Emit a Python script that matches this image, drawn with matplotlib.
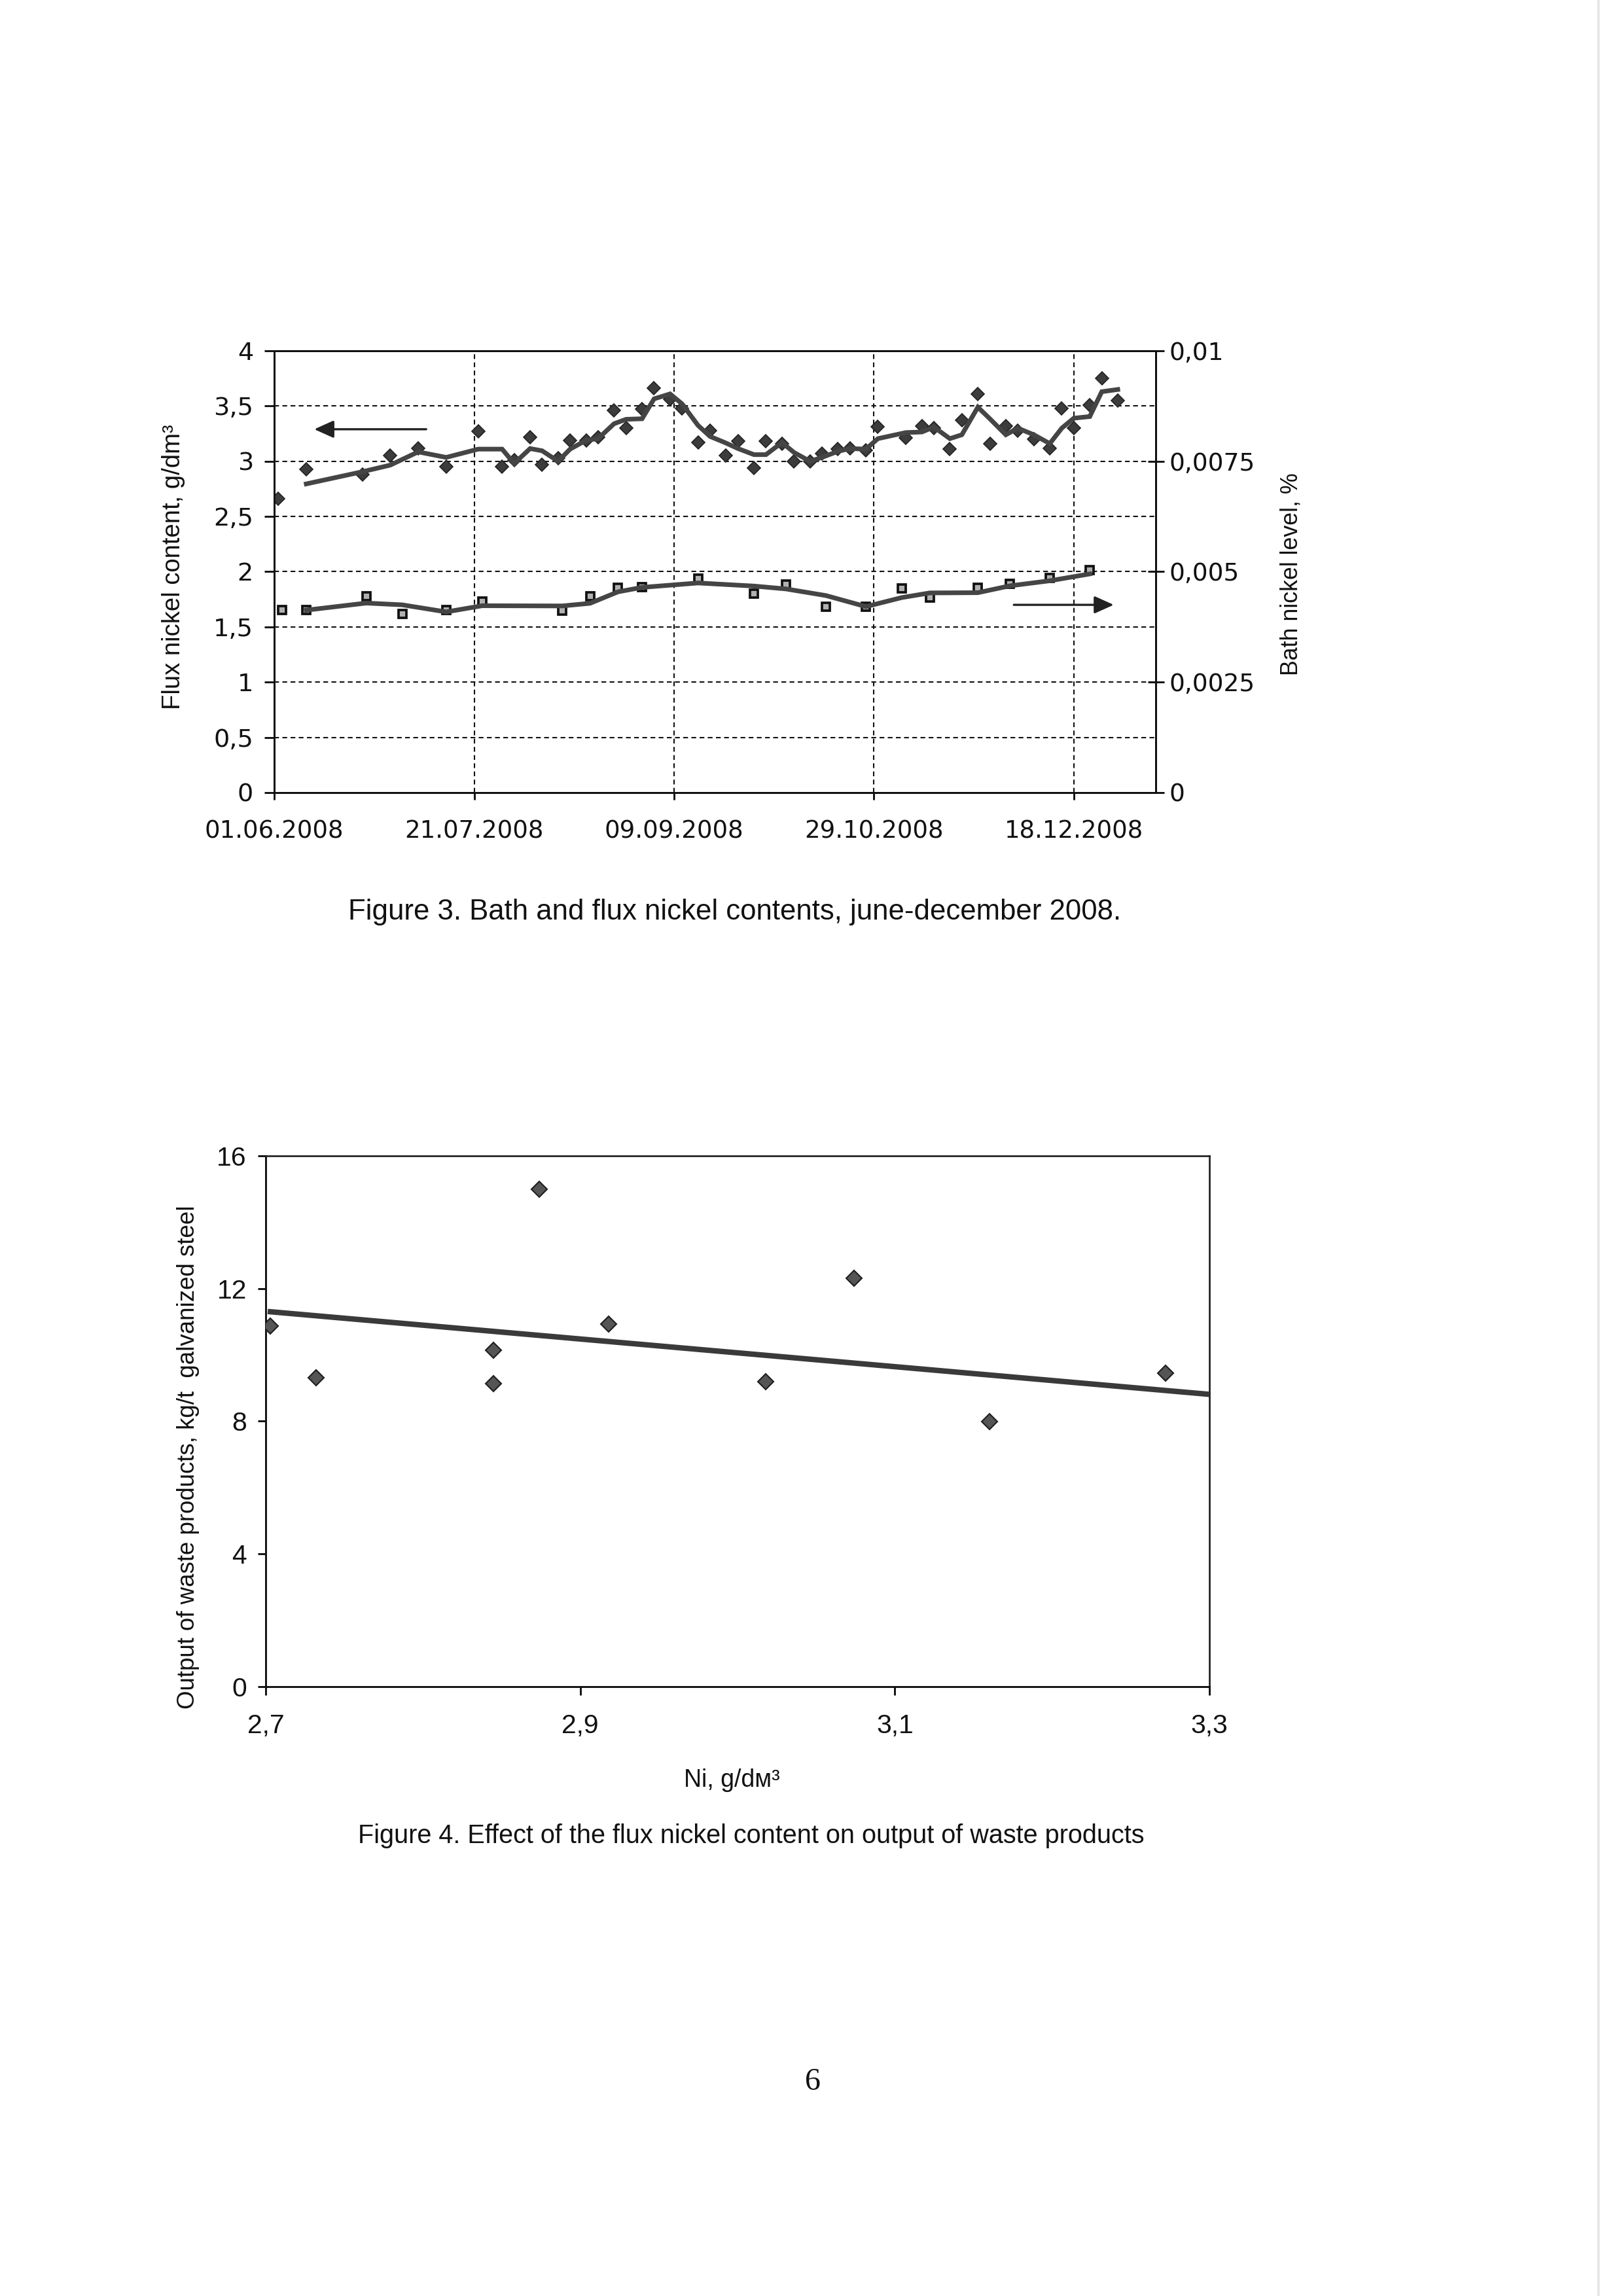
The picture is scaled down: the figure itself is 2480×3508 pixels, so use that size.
import datetime

import matplotlib
matplotlib.use('Agg')
import matplotlib.pyplot as plt
from matplotlib import font_manager
from matplotlib.lines import Line2D
import pandas as pd

# Figure 3: flux (left axis, g/dm3) and bath (right axis, %) nickel contents
flux_dates = [
    '02.06.2008', '09.06.2008', '23.06.2008', '30.06.2008', '07.07.2008',
    '14.07.2008', '22.07.2008', '28.07.2008', '31.07.2008', '04.08.2008',
    '07.08.2008', '11.08.2008', '14.08.2008', '18.08.2008', '21.08.2008',
    '25.08.2008', '28.08.2008', '01.09.2008', '04.09.2008', '08.09.2008',
    '11.09.2008', '15.09.2008', '18.09.2008', '22.09.2008', '25.09.2008',
    '29.09.2008', '02.10.2008', '06.10.2008', '09.10.2008', '13.10.2008',
    '16.10.2008', '20.10.2008', '23.10.2008', '27.10.2008', '30.10.2008',
    '06.11.2008', '10.11.2008', '13.11.2008', '17.11.2008', '20.11.2008',
    '24.11.2008', '27.11.2008', '01.12.2008', '04.12.2008', '08.12.2008',
    '12.12.2008', '15.12.2008', '18.12.2008', '22.12.2008', '25.12.2008',
    '29.12.2008']
flux_ni = [
    2.66, 2.93, 2.88, 3.05, 3.12, 2.95, 3.27, 2.95, 3.01, 3.22,
    2.97, 3.03, 3.19, 3.19, 3.22, 3.46, 3.30, 3.47, 3.66, 3.56,
    3.48, 3.17, 3.28, 3.05, 3.18, 2.94, 3.18, 3.16, 3.00, 3.00,
    3.07, 3.11, 3.12, 3.10, 3.31, 3.21, 3.32, 3.30, 3.11, 3.37,
    3.61, 3.16, 3.32, 3.28, 3.20, 3.12, 3.48, 3.30, 3.51, 3.75,
    3.55]

bath_dates = [
    '03.06.2008', '09.06.2008', '24.06.2008', '03.07.2008', '14.07.2008',
    '23.07.2008', '12.08.2008', '19.08.2008', '26.08.2008', '01.09.2008',
    '15.09.2008', '29.09.2008', '07.10.2008', '17.10.2008', '27.10.2008',
    '05.11.2008', '12.11.2008', '24.11.2008', '02.12.2008', '12.12.2008',
    '22.12.2008']
bath_ni = [
    0.00413, 0.00413, 0.00445, 0.00405, 0.00413, 0.00433, 0.00412, 0.00445,
    0.00464, 0.00465, 0.00484, 0.00451, 0.00471, 0.00421, 0.00421, 0.00462,
    0.00442, 0.00463, 0.00473, 0.00486, 0.00504]

date_ticks = ['01.06.2008', '21.07.2008', '09.09.2008', '29.10.2008',
              '18.12.2008']
flux_ticks = [0, 0.5, 1, 1.5, 2, 2.5, 3, 3.5, 4]
bath_ticks = [0, 0.0025, 0.005, 0.0075, 0.01]
bath_tick_labels = ['0', '0,0025', '0,005', '0,0075', '0,01']

# Figure 4: waste output vs flux nickel
ni_content = [2.703, 2.732, 2.845, 2.845, 2.874, 2.918, 3.018, 3.074,
              3.160, 3.272]
waste_output = [10.87, 9.32, 10.14, 9.13, 15.0, 10.92, 9.19, 12.31,
                7.99, 9.44]
trend_ni = [2.703, 3.30]
trend_waste = [11.30, 8.81]
ni_ticks = [2.7, 2.9, 3.1, 3.3]
waste_ticks = [0, 4, 8, 12, 16]


def to_date(s):
    return datetime.datetime.strptime(s, '%d.%m.%Y')


def comma(v):
    return ('%g' % v).replace('.', ',')


def pick_font(name, fallback):
    try:
        font_manager.findfont(name, fallback_to_default=False)
        return name
    except Exception:
        return fallback


SANS = 'Liberation Sans'
NARROW = pick_font('Liberation Sans Narrow', SANS)
TICKFONT = 'DejaVu Sans'
INK = '#111111'
GREY = '#454545'

plt.rcParams['font.family'] = SANS

fig = plt.figure(figsize=(2480 / 300, 3508 / 300), dpi=300)
fig.patch.set_facecolor('white')

# ---------------- Figure 3 ----------------
ax1 = fig.add_axes([0.1690, 0.6548, 0.5431, 0.1924])
ax2 = ax1.twinx()

fd = [to_date(d) for d in flux_dates]
bd = [to_date(d) for d in bath_dates]
flux_ma = pd.Series(flux_ni).rolling(2).mean()
bath_ma = pd.Series(bath_ni).rolling(2).mean()

ax1.plot(fd, flux_ni, linestyle='none', marker='D', markersize=3.3,
         color='#3c3c3c', markeredgecolor='#222222', markeredgewidth=0.4,
         zorder=3)
ax1.plot(fd[1:], flux_ma[1:], color=GREY, linewidth=1.7,
         solid_joinstyle='miter', zorder=4)

ax2.plot(bd, bath_ni, linestyle='none', marker='s', markersize=2.7,
         markerfacecolor='#b0b0b0', markeredgecolor='#111111',
         markeredgewidth=0.9, zorder=3)
ax2.plot(bd[1:], bath_ma[1:], color=GREY, linewidth=1.7, zorder=4)

x_start = to_date('01.06.2008')
x_end = to_date('07.01.2009') + datetime.timedelta(hours=12)
ax1.set_xlim(x_start, x_end)
ax1.set_ylim(0, 4)
ax2.set_ylim(0, 0.01)

ax1.set_xticks([to_date(d) for d in date_ticks])
ax1.set_xticklabels(date_ticks, family=TICKFONT, fontsize=8.9)
ax1.set_yticks(flux_ticks)
ax1.set_yticklabels([comma(v) for v in flux_ticks], family=TICKFONT,
                    fontsize=9.2)
ax2.set_yticks(bath_ticks)
ax2.set_yticklabels(bath_tick_labels, family=TICKFONT, fontsize=9.0)

ax1.tick_params(axis='y', direction='out', length=3.5, width=0.7, pad=4.2,
                colors=INK)
ax1.tick_params(axis='x', direction='out', length=2.7, width=0.7, pad=7,
                colors=INK)
ax2.tick_params(axis='y', direction='inout', length=6, width=0.7, pad=1.8,
                colors=INK)

grid_style = dict(color='#111111', linestyle=(0, (3.5, 2.5)), linewidth=0.5)
for v in flux_ticks[1:-1]:
    ax1.axhline(v, zorder=1, **grid_style)
for d in date_ticks[1:]:
    ax1.axvline(to_date(d), zorder=1, **grid_style)

for ax in (ax1, ax2):
    for side in ('top', 'bottom', 'left', 'right'):
        ax.spines[side].set_linewidth(0.7)
        ax.spines[side].set_color(INK)

# direction arrows
arrow = dict(arrowstyle='-|>,head_length=0.6,head_width=0.27',
             color='#222222', linewidth=0.8, mutation_scale=10,
             shrinkA=0, shrinkB=0)
ax1.annotate('', xy=(to_date('11.06.2008'), 3.29),
             xytext=(to_date('09.07.2008'), 3.29), arrowprops=arrow)
ax2.annotate('', xy=(to_date('28.12.2008'), 0.00425),
             xytext=(to_date('03.12.2008'), 0.00425), arrowprops=arrow)

fig.text(0.107, 0.753, 'Flux nickel content, g/dm³', rotation=90,
         ha='center', va='center', fontsize=9.2, color=INK)
fig.text(0.7956, 0.750, 'Bath nickel level, %', rotation=90,
         ha='center', va='center', fontsize=8.6, color=INK)
fig.text(0.4528, 0.6028,
         'Figure 3. Bath and flux nickel contents, june-december 2008.',
         ha='center', va='center', fontsize=10.5, color=INK)

# ---------------- Figure 4 ----------------
ax3 = fig.add_axes([0.1637, 0.2654, 0.5815, 0.2312])
ax3.plot(ni_content, waste_output, linestyle='none', marker='D',
         markersize=4.0, color='#555555', markeredgecolor='#1e1e1e',
         markeredgewidth=0.5, zorder=3)
ax3.plot(trend_ni, trend_waste, color='#3a3a3a', linewidth=2.0, zorder=4)
ax3.set_xlim(2.7, 3.3)
ax3.set_ylim(0, 16)
ax3.set_xticks(ni_ticks)
ax3.set_xticklabels([comma(v) for v in ni_ticks], family=NARROW,
                    fontsize=9.8)
ax3.set_yticks(waste_ticks)
ax3.set_yticklabels([comma(v) for v in waste_ticks], family=NARROW,
                    fontsize=9.8)
ax3.tick_params(direction='out', length=3, width=0.7, colors=INK)
ax3.tick_params(axis='y', pad=4)
ax3.tick_params(axis='x', pad=6.8)
for side in ('bottom', 'left'):
    ax3.spines[side].set_linewidth(0.7)
    ax3.spines[side].set_color(INK)
for side in ('top', 'right'):
    ax3.spines[side].set_linewidth(0.65)
    ax3.spines[side].set_color('#222222')

fig.text(0.116, 0.3655, 'Output of waste products, kg/t  galvanized steel',
         rotation=90, ha='center', va='center', fontsize=8.8, color=INK)
fig.text(0.451, 0.2245, 'Ni, g/dм³', ha='center', va='center',
         family=NARROW, fontsize=9, color=INK)
fig.text(0.463, 0.2003,
         'Figure 4. Effect of the flux nickel content on output of waste '
         'products', ha='center', va='center', fontsize=9.5, color=INK)

# page number and the faint scan edge
fig.text(0.5008, 0.0932, '6', ha='center', va='center',
         family='Liberation Serif', fontsize=11.5, color=INK)
fig.add_artist(Line2D([0.9847, 0.9847], [0.0, 1.0], color='#e4e4e4',
                      linewidth=0.8, transform=fig.transFigure))

fig.savefig('out.png', dpi=300, facecolor='white')
